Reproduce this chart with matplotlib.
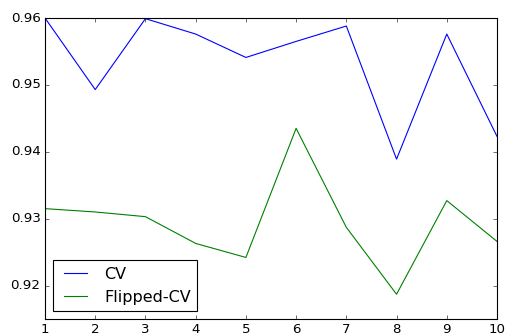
import matplotlib
matplotlib.use("Agg")
import matplotlib.pyplot as plt

plt.style.use('classic')

folds = [1, 2, 3, 4, 5, 6, 7, 8, 9, 10]
cv_scores = [0.9600, 0.9493, 0.9599, 0.9576, 0.9541, 0.9565, 0.9588, 0.9389, 0.9576, 0.9423]
flipped_cv_scores = [0.9315, 0.9310, 0.9303, 0.9263, 0.9242, 0.9435, 0.9287, 0.9187, 0.9327, 0.9266]

fig, ax = plt.subplots(figsize=(507 / 80, 336 / 80), dpi=80)
fig.patch.set_facecolor('white')
fig.subplots_adjust(left=45 / 507, right=497 / 507, bottom=1 - 319 / 336, top=1 - 18 / 336)

ax.plot(folds, cv_scores, 'b', label='CV')
ax.plot(folds, flipped_cv_scores, 'g', label='Flipped-CV')

ax.set_xlim(1, 10)
ax.set_ylim(0.915, 0.96)
ax.set_yticks([0.92, 0.93, 0.94, 0.95, 0.96])
ax.legend(loc='lower left')

fig.savefig('out.png', dpi=80, facecolor='white')
